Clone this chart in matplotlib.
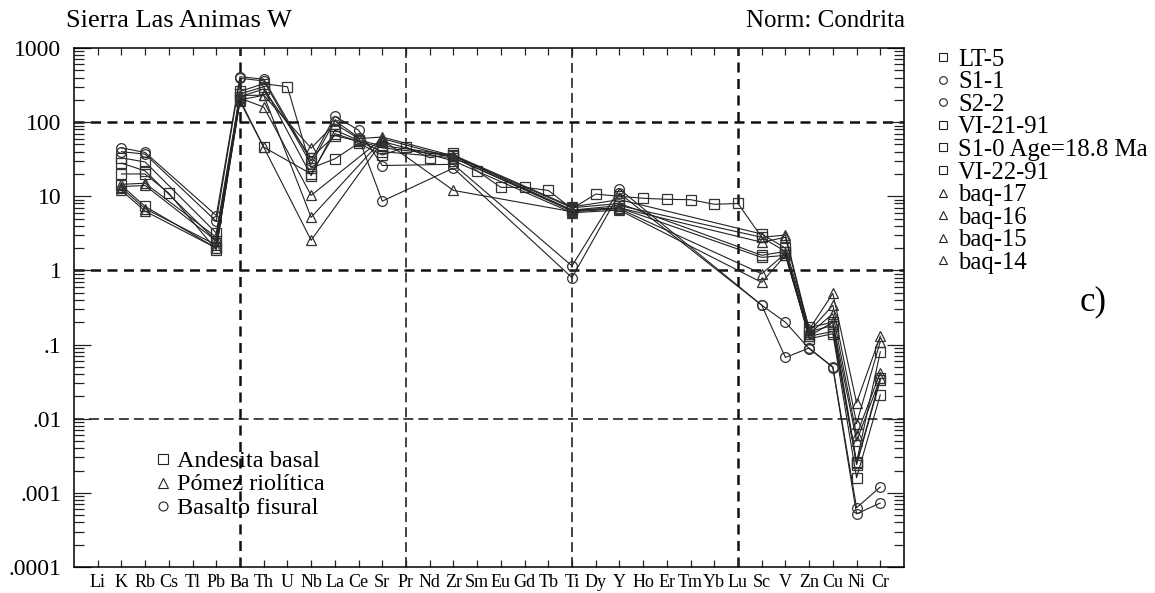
import numpy as np
import matplotlib
matplotlib.use("Agg")
import matplotlib.pyplot as plt
from matplotlib.lines import Line2D
from matplotlib.ticker import FixedLocator, FixedFormatter, LogLocator, NullFormatter

plt.rcParams["font.family"] = ["Liberation Serif", "DejaVu Serif"]

nan = np.nan

elements = ["Li", "K", "Rb", "Cs", "Tl", "Pb", "Ba", "Th", "U", "Nb", "La", "Ce", "Sr",
            "Pr", "Nd", "Zr", "Sm", "Eu", "Gd", "Tb", "Ti", "Dy", "Y", "Ho", "Er", "Tm",
            "Yb", "Lu", "Sc", "V", "Zn", "Cu", "Ni", "Cr"]

#            Li   K     Rb    Cs   Tl   Pb   Ba   Th   U    Nb    La   Ce   Sr   Pr   Nd   Zr   Sm   Eu    Gd    Tb   Ti    Dy    Y     Ho   Er   Tm   Yb   Lu   Sc   V     Zn    Cu    Ni      Cr
lt_5      = [nan, 20,   20,   11,  nan, 1.9, 260, 330, 300, 24,   32,  52,  36,  46,  33,  38,  22,  13.2, 13.2, 12,  6.8,  10.7, 10,   9.4, 9.1, 9.0, 7.8, 8.0, 2.8, 1.8,  0.12, 0.14, 0.0016, 0.021]
s1_1      = [nan, 45,   39,   nan, nan, 5.5, 410, 380, nan, 30,   120, 78,  26,  nan, nan, 27,  nan, nan,  nan,  nan, 1.15, nan,  12.5, nan, nan, nan, nan, nan, 0.34, 0.2, 0.088, 0.05, 0.00063, 0.0012]
s2_2      = [nan, 40,   37,   nan, nan, 4.6, 390, 360, nan, 27,   105, 62,  8.6, nan, nan, 24,  nan, nan,  nan,  nan, 0.8,  nan,  11,   nan, nan, nan, nan, nan, 0.34, 0.067, 0.09, 0.049, 0.00052, 0.00073]
vi_21_91  = [nan, 33,   29,   nan, nan, 3.2, 240, 300, nan, 19,   78,  57,  48,  nan, nan, 36,  nan, nan,  nan,  nan, 7.2,  nan,  9.0,  nan, nan, nan, nan, nan, 3.1, 2.0,  0.17, 0.2,  0.0026, 0.08]
s1_0      = [nan, 28,   22,   nan, nan, 2.5, 220, 280, nan, 33,   66,  55,  40,  nan, nan, 33,  nan, nan,  nan,  nan, 6.5,  nan,  7.0,  nan, nan, nan, nan, nan, 1.5, 1.6,  0.13, 0.15, 0.0025, 0.035]
vi_22_91  = [nan, 14,   7.3,  nan, nan, 2.0, 200, 46,  nan, 20,   70,  55,  45,  nan, nan, 35,  nan, nan,  nan,  nan, 7.0,  nan,  8.0,  nan, nan, nan, nan, nan, 1.6, 1.8,  0.15, 0.18, 0.0024, 0.033]
baq_17    = [nan, 14.5, 15,   nan, nan, 2.8, 230, 230, nan, 44.6, 95,  60,  63,  nan, nan, 35,  nan, nan,  nan,  nan, 6.5,  nan,  7.5,  nan, nan, nan, nan, nan, 2.8, 3.0,  0.16, 0.49, 0.0164, 0.13]
baq_16    = [nan, 13.5, 14,   nan, nan, 2.5, 210, 160, nan, 10.3, nan, nan, 60,  nan, nan, 33,  nan, nan,  nan,  nan, 6.3,  nan,  7.0,  nan, nan, nan, nan, nan, 2.4, 2.8,  0.15, 0.34, 0.0086, 0.11]
baq_15    = [nan, 13,   6.8,  nan, nan, 2.2, 200, 230, nan, 5.2,  nan, nan, 58,  nan, nan, 12,  nan, nan,  nan,  nan, 6.2,  nan,  6.8,  nan, nan, nan, nan, nan, 0.9, 1.7,  0.14, 0.26, 0.006, 0.042]
baq_14    = [nan, 12,   6.3,  nan, nan, 2.0, 190, 46,  nan, 2.55, nan, nan, 55,  nan, nan, 30,  nan, nan,  nan,  nan, 6.0,  nan,  6.5,  nan, nan, nan, nan, nan, 0.69, 1.6, 0.13, 0.2,  0.005, 0.035]

samples = [
    ("LT-5", lt_5, "s"),
    ("S1-1", s1_1, "o"),
    ("S2-2", s2_2, "o"),
    ("VI-21-91", vi_21_91, "s"),
    ("S1-0 Age=18.8 Ma", s1_0, "s"),
    ("VI-22-91", vi_22_91, "s"),
    ("baq-17", baq_17, "^"),
    ("baq-16", baq_16, "^"),
    ("baq-15", baq_15, "^"),
    ("baq-14", baq_14, "^"),
]

rock_types = [("Andesita basal", "s"), ("Pómez riolítica", "^"), ("Basalto fisural", "o")]

ytick_vals = [1e-4, 1e-3, 1e-2, 1e-1, 1, 10, 100, 1000]
ytick_labels = [".0001", ".001", ".01", ".1", "1", "10", "100", "1000"]

W, H = 1155, 593
fig = plt.figure(figsize=(W / 100, H / 100), dpi=100)
ax = fig.add_axes([74 / W, 1 - 567 / H, (904 - 74) / W, (567 - 48) / H])

x = np.arange(len(elements))

# reference lines
for v, lw, dash in [(100, 1.8, (4, 2.6)), (1, 1.8, (4, 2.6)), (0.01, 1.1, (6.5, 3.3))]:
    ax.axhline(v, color="#111111", lw=lw, ls=(0, dash), zorder=1)
for el, lw, dash in [("Ba", 1.8, (4, 2.6)), ("Pr", 1.1, (6.5, 3.3)),
                     ("Ti", 1.1, (6.5, 3.3)), ("Lu", 1.8, (4, 2.6))]:
    ax.axvline(elements.index(el), color="#111111", lw=lw, ls=(0, dash), zorder=1)

for name, vals, mk in samples:
    y = np.array(vals, dtype=float)
    ok = np.isfinite(y)
    ax.plot(x[ok], y[ok], color="#222222", lw=0.8, marker=mk, ms=7,
            mfc="none", mec="#333333", mew=0.9, zorder=3)

ax.set_yscale("log")
ax.set_ylim(1e-4, 1000)
ax.set_xlim(-1, len(elements))

ax.yaxis.set_major_locator(FixedLocator(ytick_vals))
ax.yaxis.set_major_formatter(FixedFormatter(ytick_labels))
ax.yaxis.set_minor_locator(LogLocator(base=10, subs=np.arange(2, 10)))
ax.yaxis.set_minor_formatter(NullFormatter())
ax.set_xticks(x)
ax.set_xticklabels(elements)

ax.tick_params(axis="both", which="both", direction="in", top=True, right=True,
               width=0.9, color="#222222")
ax.tick_params(axis="x", length=5, pad=5, labelsize=13)
ax.tick_params(axis="y", which="major", length=12, pad=9, labelsize=17)
ax.tick_params(axis="y", which="minor", length=7)
for s in ax.spines.values():
    s.set_linewidth(1.1)

fig.text(66 / W, 1 - 21 / H, "Sierra Las Animas W", fontsize=19, va="center", ha="left")
fig.text(905 / W, 1 - 21 / H, "Norm: Condrita", fontsize=18, va="center", ha="right")
fig.text(1093 / W, 1 - 302 / H, "c)", fontsize=25, va="center", ha="center")


def draw_key(entries, mx, tx, y0, step, ms, fs):
    for i, (label, mk) in enumerate(entries):
        yy = 1 - (y0 + i * step) / H
        fig.add_artist(Line2D([mx / W], [yy], transform=fig.transFigure, ls="none",
                              marker=mk, ms=ms, mfc="none", mec="#222222", mew=0.8))
        fig.text(tx / W, yy, label, fontsize=fs, va="center_baseline", ha="left")


# sample key (right) and rock type key (inside the plot)
draw_key([(n, mk) for n, _, mk in samples], 943, 958, 57, 22.6, 5.5, 17.8)
draw_key(rock_types, 163, 177, 459, 23.5, 6.5, 17.5)

fig.savefig("out.png", dpi=100)
